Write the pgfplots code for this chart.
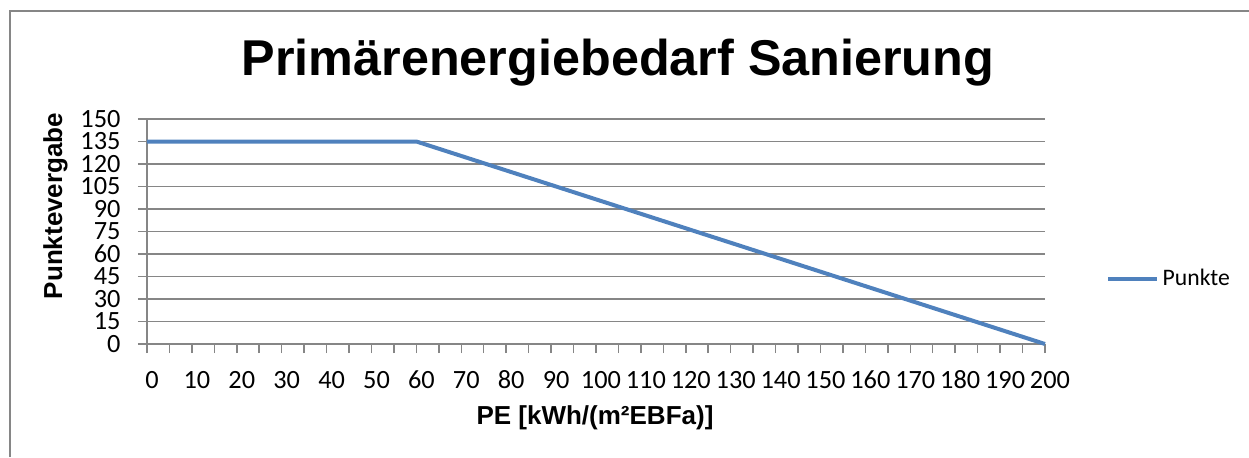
\documentclass[border=0pt]{standalone}
\usepackage{fontspec}
\setmainfont{Carlito}
\newfontfamily\arialf{Liberation Sans}
\usepackage{pgfplots}
\pgfplotsset{compat=1.18}
\definecolor{xlblue}{HTML}{4F81BD}
\definecolor{xlgrid}{HTML}{868686}
\begin{document}
\begin{tikzpicture}[x=0.6pt,y=-0.6pt]
\useasboundingbox (0,0) rectangle (1249,457);
\draw[xlgrid,line width=1.2pt] (9.5,457) -- (9.5,10.5) -- (1249,10.5);
\begin{axis}[
  at={(88.2pt,-206.4pt)}, anchor=origin,
  scale only axis,
  width=538.8pt, height=135pt,
  xmin=0, xmax=200, ymin=0, ymax=150,
  axis x line*=bottom, axis y line*=left,
  axis line style={xlgrid, line width=0.9pt, -},
  xtick={0,10,...,200}, minor xtick={5,15,...,195},
  ytick={0,15,...,150},
  tick align=outside,
  major tick length=5.4pt, minor tick length=5.4pt,
  tick style={xlgrid, line width=0.9pt},
  ymajorgrids,
  major grid style={xlgrid, line width=0.9pt},
  /pgf/number format/assume math mode=true,
  ticklabel style={font=\fontsize{15.8}{18}\selectfont},
  xticklabel style={xshift=3pt, yshift=-7.5pt, text height=10pt, text depth=0pt},
  yticklabel style={xshift=-7pt, inner ysep=0.5pt, text height=10pt, text depth=0pt},
  legend style={at={(1.068,0.289)}, anchor=west, draw=none, fill=none,
    font=\fontsize{14.2}{16}\selectfont, inner sep=0pt},
  legend image code/.code={\draw[#1] (0pt,0pt) -- (29.4pt,0pt);},
  clip=false,
]
\addplot[xlblue, line width=2.4pt, line join=round] coordinates {(0,135) (60,135) (200,0)};
\addlegendentry{Punkte}
\end{axis}
\node[anchor=base, font=\arialf\bfseries\fontsize{30.2}{34}\selectfont, inner sep=0pt] at (618,75) {Primärenergiebedarf Sanierung};
\node[anchor=base, font=\arialf\bfseries\fontsize{15.6}{18}\selectfont, inner sep=0pt] at (595,424) {PE [kWh/(m²EBFa)]};
\node[anchor=base, rotate=90, font=\arialf\bfseries\fontsize{15.6}{18}\selectfont, inner sep=0pt] at (62,206) {Punktevergabe};
\end{tikzpicture}
\end{document}
